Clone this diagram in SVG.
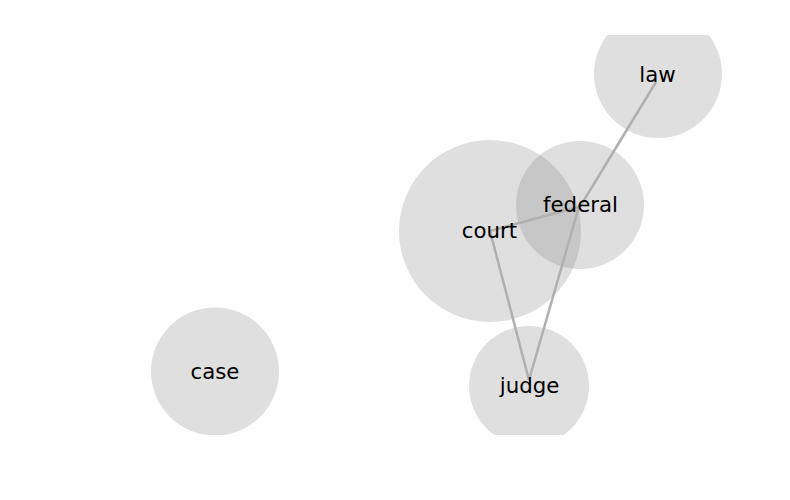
<svg xmlns="http://www.w3.org/2000/svg" width="790" height="500" viewBox="0 0 790 500">
  <defs>
    <clipPath id="plot"><rect x="0" y="35" width="790" height="400"/></clipPath>
    <style>
      .bubble { fill: #808080; fill-opacity: 0.25; }
      .edge { stroke: #b0b0b0; stroke-width: 2.5; fill: none; }
      .label { font-family: "DejaVu Sans", sans-serif; font-size: 21.3px; fill: #000; text-anchor: middle; }
    </style>
  </defs>
  <rect width="790" height="500" fill="#fff"/>
  <g clip-path="url(#plot)">
    <g id="node-law"><circle class="bubble" cx="658" cy="74" r="64"/></g>
    <g id="node-federal"><circle class="bubble" cx="580" cy="205" r="64"/></g>
    <g id="node-court"><circle class="bubble" cx="490" cy="231" r="91"/></g>
    <g id="node-judge"><circle class="bubble" cx="529" cy="386" r="60"/></g>
    <g id="node-case"><circle class="bubble" cx="215" cy="371.5" r="64"/></g>
    <g id="connectors">
      <line class="edge" x1="656" y1="82" x2="578" y2="210"/>
      <line class="edge" x1="578" y1="210" x2="529" y2="380"/>
      <line class="edge" x1="490" y1="231" x2="578" y2="207"/>
      <line class="edge" x1="490" y1="231" x2="529" y2="380"/>
    </g>
    <g id="labels">
      <text class="label" x="657.5" y="82">law</text>
      <text class="label" x="580.5" y="212">federal</text>
      <text class="label" x="489.5" y="238">court</text>
      <text class="label" x="529.5" y="393">judge</text>
      <text class="label" x="215" y="378.5">case</text>
    </g>
  </g>
</svg>
